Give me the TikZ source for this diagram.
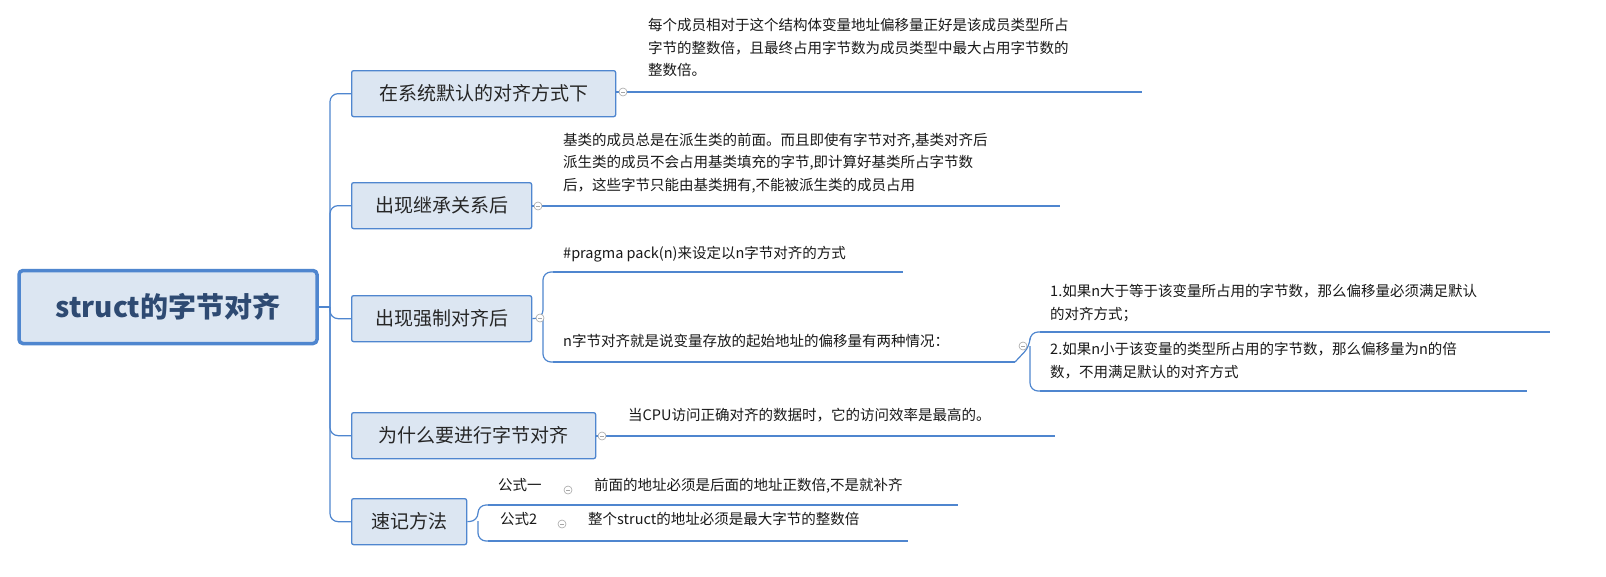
\documentclass[tikz,border=0pt]{standalone}
\usepackage{fontspec}
\setmainfont{Noto Sans CJK SC}
\begin{document}
\begin{tikzpicture}[x=1pt,y=-1pt,
  lc/.style={draw=lineblue,line width=1.6pt},
  conn/.style={draw=lineblue,line width=1.2pt,rounded corners=8pt},
  br/.style={draw=lineblue,line width=1.3pt,fill=boxfill,rounded corners=2pt,inner sep=0pt,anchor=north west,font=\fontsize{19}{22}\selectfont,text=black!85},
  lf/.style={anchor=north west,inner sep=0pt,align=left,font=\fontsize{14.5}{22.5}\selectfont,text=black!90},
  mk/.style={circle,draw=gray!70,line width=0.6pt,minimum size=8pt,inner sep=0pt,fill=white,
    path picture={\draw[gray!70,line width=0.6pt] ([xshift=-2pt]path picture bounding box.center)--([xshift=2pt]path picture bounding box.center);}}]
\definecolor{lineblue}{HTML}{4F86CF}
\definecolor{boxfill}{HTML}{DCE6F2}
\definecolor{roottext}{HTML}{2E4A72}
\useasboundingbox (0,0) rectangle (1606,576);
\fill[white] (0,0) rectangle (1606,576);
% root
\node[draw=lineblue,line width=3.5pt,fill=boxfill,rounded corners=4pt,minimum width=298pt,minimum height=73pt,
  font=\bfseries\fontsize{28}{32}\selectfont,text=roottext] (root) at (168,307) {struct的字节对齐};
% branches
\node[br,minimum width=264pt,minimum height=46pt] (b1) at (351,70) {在系统默认的对齐方式下};
\node[br,minimum width=180pt,minimum height=46pt] (b2) at (351,182) {出现继承关系后};
\node[br,minimum width=180pt,minimum height=46pt] (b3) at (351,295) {出现强制对齐后};
\node[br,minimum width=244pt,minimum height=46pt] (b4) at (351,412) {为什么要进行字节对齐};
\node[br,minimum width=115pt,minimum height=46pt] (b5) at (351,498) {速记方法};
\coordinate (hub) at (330,307);
\draw[conn] (root.east) -- (hub);
\foreach \b in {b1,b2,b3,b4,b5} \draw[conn] (hub) |- (\b.west);
% leaf 1
\node[lf] (t1) at (648,18) {每个成员相对于这个结构体变量地址偏移量正好是该成员类型所占\\字节的整数倍，且最终占用字节数为成员类型中最大占用字节数的\\整数倍。};
\coordinate (u1a) at (630,92); \coordinate (u1b) at (1142,92);
\draw[lc] (b1.east|-u1a) -- (u1b);
\node[mk] (m1) at (623,92) {};
% leaf 2
\node[lf] (t2) at (563,133) {基类的成员总是在派生类的前面。而且即使有字节对齐,基类对齐后\\派生类的成员不会占用基类填充的字节,即计算好基类所占字节数\\后，这些字节只能由基类拥有,不能被派生类的成员占用};
\coordinate (u2b) at (1060,206);
\draw[lc] (b2.east|-u2b) -- (u2b);
\node[mk] (m2) at (538,206) {};
% branch 3
\node[lf] (t3a) at (563,246) {\#pragma pack(n)来设定以n字节对齐的方式};
\node[lf] (t3b) at (563,334) {n字节对齐就是说变量存放的起始地址的偏移量有两种情况：};
\coordinate (u3a) at (553,272); \coordinate (u3ae) at (903,272);
\coordinate (u3b) at (553,362); \coordinate (u3be) at (1015,362);
\draw[lc] (u3a) -- (u3ae); \draw[lc] (u3b) -- (u3be);
\coordinate (h3) at (543,318);
\draw[conn] (b3.east) -- (h3) |- (u3a); \draw[conn] (h3) |- (u3b);
\node[mk] (m3) at (540,318) {};
\node[lf] (t3c) at (1050,284) {1.如果n大于等于该变量所占用的字节数，那么偏移量必须满足默认\\的对齐方式；};
\node[lf] (t3d) at (1050,342) {2.如果n小于该变量的类型所占用的字节数，那么偏移量为n的倍\\数，不用满足默认的对齐方式};
\coordinate (u3c) at (1040,332); \coordinate (u3ce) at (1550,332);
\coordinate (u3d) at (1040,391); \coordinate (u3de) at (1527,391);
\draw[lc] (u3c) -- (u3ce); \draw[lc] (u3d) -- (u3de);
\coordinate (h3b) at (1030,346);
\draw[conn] (u3be) -- (h3b) |- (u3c); \draw[conn] (h3b) |- (u3d);
\node[mk] (m3b) at (1023,346) {};
% leaf 4
\node[lf] (t4) at (628,408) {当CPU访问正确对齐的数据时，它的访问效率是最高的。};
\coordinate (u4b) at (1055,436);
\draw[lc] (b4.east|-u4b) -- (u4b);
\node[mk] (m4) at (602,436) {};
% branch 5
\node[lf] (f1) at (498,478) {公式一};
\node[lf] (f2) at (500,512) {公式2};
\coordinate (u5a) at (488,505); \coordinate (u5ae) at (578,505);
\coordinate (u5b) at (488,541); \coordinate (u5be) at (577,541);
\draw[lc] (u5a) -- (u5ae); \draw[lc] (u5b) -- (u5be);
\coordinate (h5) at (478,521);
\draw[conn] (b5.east) -- (h5) |- (u5a); \draw[conn] (h5) |- (u5b);
\node[lf] (g1) at (594,478) {前面的地址必须是后面的地址正数倍,不是就补齐};
\node[lf] (g2) at (588,512) {整个struct的地址必须是最大字节的整数倍};
\coordinate (u6a) at (958,505); \coordinate (u6b) at (908,541);
\draw[lc] (u5ae) -- (u6a); \draw[lc] (u5be) -- (u6b);
\node[mk] (m5) at (568,490) {};
\node[mk] (m6) at (562,524) {};
\end{tikzpicture}
\end{document}
